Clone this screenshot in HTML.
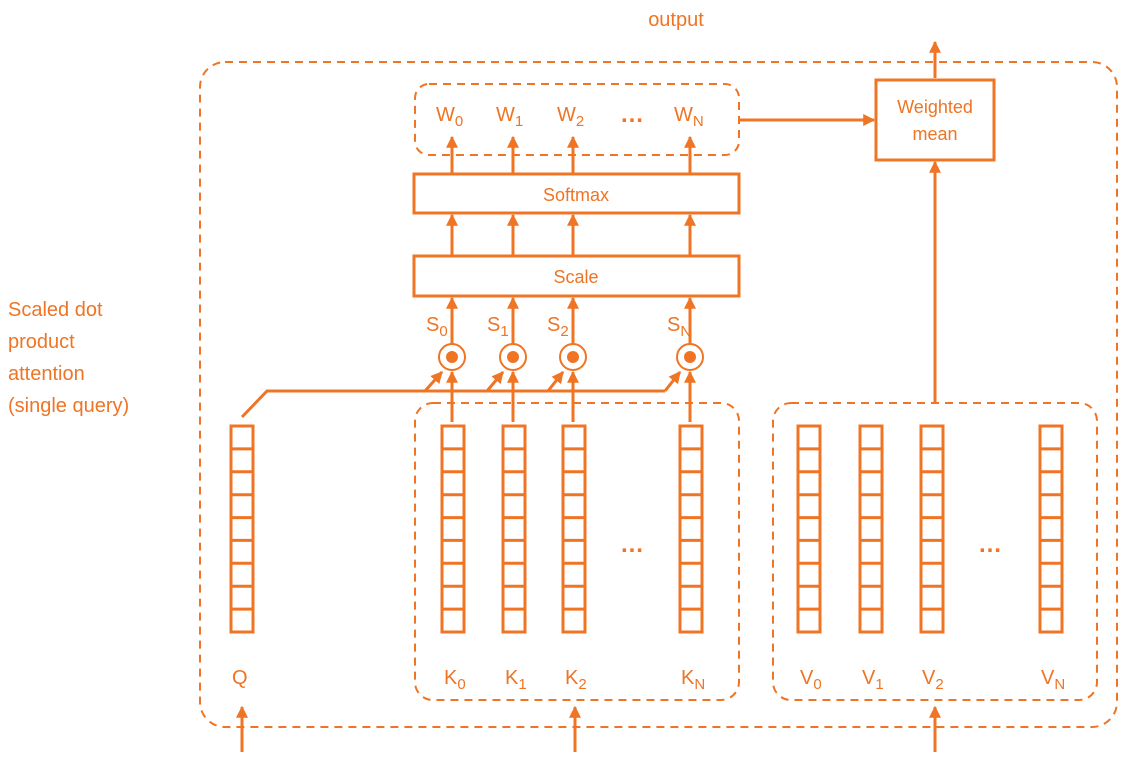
<!DOCTYPE html>
<html><head><meta charset="utf-8"><style>
html,body{margin:0;padding:0;background:#fff;}
svg text{font-family:"Liberation Sans",sans-serif;fill:#ef7424;}
</style></head><body>
<svg width="1139" height="762" viewBox="0 0 1139 762" xmlns="http://www.w3.org/2000/svg">
<defs>
<marker id="a" viewBox="0 0 10 10" refX="9" refY="5" markerWidth="4" markerHeight="4" orient="auto"><path d="M0,0 L10,5 L0,10 z" fill="#ef7424"/></marker>
<g id="vec" fill="none" stroke="#ef7424" stroke-width="3">
<rect x="0" y="0" width="22" height="206"/>
<path d="M0,22.9H22M0,45.8H22M0,68.7H22M0,91.6H22M0,114.4H22M0,137.3H22M0,160.2H22M0,183.1H22"/>
</g>
</defs>
<g fill="none" stroke="#ef7424" stroke-width="2" stroke-dasharray="8,6">
<rect x="200" y="62" width="917" height="665" rx="25"/>
<rect x="415" y="84" width="324" height="71" rx="14"/>
<rect x="415" y="403" width="324" height="297" rx="18"/>
<rect x="773" y="403" width="324" height="297" rx="18"/>
</g>
<g fill="none" stroke="#ef7424" stroke-width="3">
<rect x="876" y="80" width="118" height="80"/>
<rect x="414" y="174" width="325" height="39"/>
<rect x="414" y="256" width="325" height="40"/>
</g>
<g stroke="#ef7424" stroke-width="3" fill="none" marker-end="url(#a)">
<line x1="935" y1="78" x2="935" y2="42"/>
<line x1="739" y1="120" x2="874" y2="120"/>
<line x1="935" y1="403" x2="935" y2="162"/>
<line x1="452" y1="174" x2="452" y2="137"/><line x1="513" y1="174" x2="513" y2="137"/><line x1="573" y1="174" x2="573" y2="137"/><line x1="690" y1="174" x2="690" y2="137"/>
<line x1="452" y1="256" x2="452" y2="215"/><line x1="513" y1="256" x2="513" y2="215"/><line x1="573" y1="256" x2="573" y2="215"/><line x1="690" y1="256" x2="690" y2="215"/>
<line x1="452" y1="344" x2="452" y2="298"/><line x1="513" y1="344" x2="513" y2="298"/><line x1="573" y1="344" x2="573" y2="298"/><line x1="690" y1="344" x2="690" y2="298"/>
<line x1="452" y1="422" x2="452" y2="372"/><line x1="513" y1="422" x2="513" y2="372"/><line x1="573" y1="422" x2="573" y2="372"/><line x1="690" y1="422" x2="690" y2="372"/>
<line x1="425" y1="391" x2="442" y2="372"/><line x1="487" y1="391" x2="503" y2="372"/><line x1="548" y1="391" x2="563" y2="372"/><line x1="665" y1="391" x2="680" y2="372"/>
<line x1="242" y1="752" x2="242" y2="707"/><line x1="575" y1="752" x2="575" y2="707"/><line x1="935" y1="752" x2="935" y2="707"/>
</g>
<polyline points="242,417 267,391 665,391" fill="none" stroke="#ef7424" stroke-width="3"/>
<g fill="#fff" stroke="#ef7424" stroke-width="2">
<circle cx="452" cy="357" r="13"/><circle cx="513" cy="357" r="13"/><circle cx="573" cy="357" r="13"/><circle cx="690" cy="357" r="13"/>
</g>
<g fill="#ef7424"><circle cx="452" cy="357" r="6"/><circle cx="513" cy="357" r="6"/><circle cx="573" cy="357" r="6"/><circle cx="690" cy="357" r="6"/></g>
<use href="#vec" x="231" y="426"/>
<use href="#vec" x="442" y="426"/><use href="#vec" x="503" y="426"/><use href="#vec" x="563" y="426"/><use href="#vec" x="680" y="426"/>
<use href="#vec" x="798" y="426"/><use href="#vec" x="860" y="426"/><use href="#vec" x="921" y="426"/><use href="#vec" x="1040" y="426"/>
<g font-size="20">
<text x="676" y="26" text-anchor="middle">output</text>
<text x="8" y="316">Scaled dot</text>
<text x="8" y="348">product</text>
<text x="8" y="380">attention</text>
<text x="8" y="412">(single query)</text>
<text x="935" y="113" text-anchor="middle" font-size="18">Weighted</text>
<text x="935" y="140" text-anchor="middle" font-size="18">mean</text>
<text x="576" y="201" text-anchor="middle" font-size="18">Softmax</text>
<text x="576" y="283" text-anchor="middle" font-size="18">Scale</text>
<text x="436" y="121">W<tspan font-size="15" dy="5">0</tspan></text>
<text x="496" y="121">W<tspan font-size="15" dy="5">1</tspan></text>
<text x="557" y="121">W<tspan font-size="15" dy="5">2</tspan></text>
<text x="620" y="122" font-size="24" font-weight="bold">…</text>
<text x="674" y="121">W<tspan font-size="15" dy="5">N</tspan></text>
<text x="426" y="331">S<tspan font-size="15" dy="5">0</tspan></text>
<text x="487" y="331">S<tspan font-size="15" dy="5">1</tspan></text>
<text x="547" y="331">S<tspan font-size="15" dy="5">2</tspan></text>
<text x="667" y="331">S<tspan font-size="15" dy="5">N</tspan></text>
<text x="232" y="684">Q</text>
<text x="444" y="684">K<tspan font-size="15" dy="5">0</tspan></text>
<text x="505" y="684">K<tspan font-size="15" dy="5">1</tspan></text>
<text x="565" y="684">K<tspan font-size="15" dy="5">2</tspan></text>
<text x="681" y="684">K<tspan font-size="15" dy="5">N</tspan></text>
<text x="620" y="552" font-size="24" font-weight="bold">…</text>
<text x="800" y="684">V<tspan font-size="15" dy="5">0</tspan></text>
<text x="862" y="684">V<tspan font-size="15" dy="5">1</tspan></text>
<text x="922" y="684">V<tspan font-size="15" dy="5">2</tspan></text>
<text x="1041" y="684">V<tspan font-size="15" dy="5">N</tspan></text>
<text x="978" y="552" font-size="24" font-weight="bold">…</text>
</g>
</svg>
</body></html>
